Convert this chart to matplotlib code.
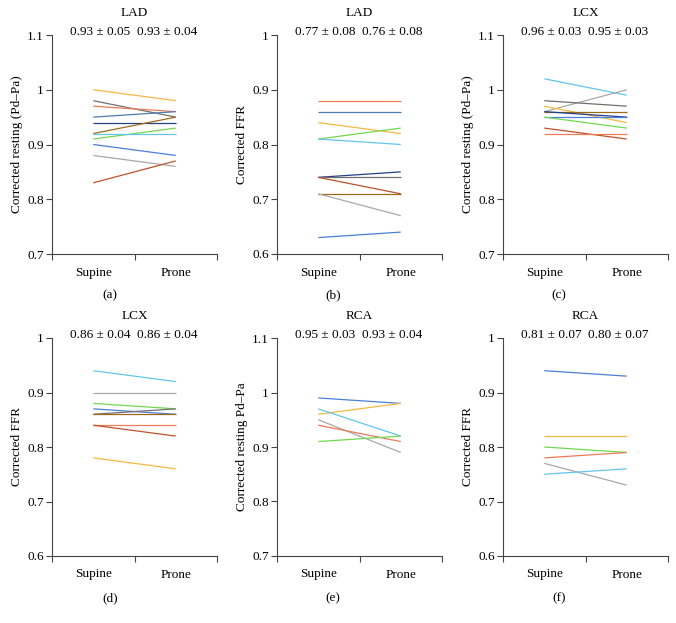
import matplotlib
matplotlib.use("Agg")
import matplotlib.pyplot as plt

plt.rcParams['font.family'] = ['Liberation Serif', 'DejaVu Serif']
plt.rcParams['font.size'] = 9.5

# colours used for the individual patients
GOLD = '#F4B942'
DGRAY = '#707070'
SALMON = '#EE7B55'
STEEL = '#4A7EB5'
NAVY = '#22408C'
BROWN = '#9E6A1A'
GREEN = '#72D94F'
CYAN = '#62C6EC'
BLUE = '#4A80D8'
LGRAY = '#A8A8A8'
BRICK = '#C0522B'

positions = ['Supine', 'Prone']

# (a) LAD resting Pd-Pa
lad_rest_supine = [1.00, 0.98, 0.97, 0.95, 0.94, 0.92, 0.91, 0.92, 0.90, 0.88, 0.83]
lad_rest_prone = [0.98, 0.95, 0.96, 0.96, 0.94, 0.95, 0.93, 0.92, 0.88, 0.86, 0.87]
lad_rest_colors = [GOLD, DGRAY, SALMON, STEEL, NAVY, BROWN, GREEN, CYAN, BLUE, LGRAY, BRICK]

# (b) LAD FFR
lad_ffr_supine = [0.88, 0.86, 0.84, 0.81, 0.81, 0.74, 0.74, 0.74, 0.71, 0.71, 0.63]
lad_ffr_prone = [0.88, 0.86, 0.82, 0.83, 0.80, 0.75, 0.74, 0.71, 0.71, 0.67, 0.64]
lad_ffr_colors = [SALMON, STEEL, GOLD, GREEN, CYAN, NAVY, DGRAY, BRICK, BROWN, LGRAY, BLUE]

# (c) LCX resting Pd-Pa
lcx_rest_supine = [1.02, 0.96, 0.98, 0.97, 0.96, 0.96, 0.95, 0.95, 0.93, 0.92]
lcx_rest_prone = [0.99, 1.00, 0.97, 0.94, 0.96, 0.95, 0.95, 0.93, 0.91, 0.92]
lcx_rest_colors = [CYAN, LGRAY, DGRAY, GOLD, BROWN, NAVY, BLUE, GREEN, BRICK, SALMON]

# (d) LCX FFR
lcx_ffr_supine = [0.94, 0.90, 0.88, 0.87, 0.86, 0.86, 0.84, 0.84, 0.78]
lcx_ffr_prone = [0.92, 0.90, 0.87, 0.86, 0.87, 0.86, 0.84, 0.82, 0.76]
lcx_ffr_colors = [CYAN, LGRAY, GREEN, BLUE, DGRAY, BROWN, SALMON, BRICK, GOLD]

# (e) RCA resting Pd-Pa
rca_rest_supine = [0.99, 0.96, 0.97, 0.95, 0.94, 0.91]
rca_rest_prone = [0.98, 0.98, 0.92, 0.89, 0.91, 0.92]
rca_rest_colors = [BLUE, GOLD, CYAN, LGRAY, SALMON, GREEN]

# (f) RCA FFR
rca_ffr_supine = [0.94, 0.82, 0.80, 0.78, 0.77, 0.75]
rca_ffr_prone = [0.93, 0.82, 0.79, 0.79, 0.73, 0.76]
rca_ffr_colors = [BLUE, GOLD, GREEN, SALMON, LGRAY, CYAN]

panels = [
    ('LAD', 'Corrected resting (Pd\u2013Pa)', lad_rest_supine, lad_rest_prone, lad_rest_colors,
     (0.7, 1.1), ['0.93 \u00b1 0.05', '0.93 \u00b1 0.04'], '(a)'),
    ('LAD', 'Corrected FFR', lad_ffr_supine, lad_ffr_prone, lad_ffr_colors,
     (0.6, 1.0), ['0.77 \u00b1 0.08', '0.76 \u00b1 0.08'], '(b)'),
    ('LCX', 'Corrected resting (Pd\u2013Pa)', lcx_rest_supine, lcx_rest_prone, lcx_rest_colors,
     (0.7, 1.1), ['0.96 \u00b1 0.03', '0.95 \u00b1 0.03'], '(c)'),
    ('LCX', 'Corrected FFR', lcx_ffr_supine, lcx_ffr_prone, lcx_ffr_colors,
     (0.6, 1.0), ['0.86 \u00b1 0.04', '0.86 \u00b1 0.04'], '(d)'),
    ('RCA', 'Corrected resting Pd\u2013Pa', rca_rest_supine, rca_rest_prone, rca_rest_colors,
     (0.7, 1.1), ['0.95 \u00b1 0.03', '0.93 \u00b1 0.04'], '(e)'),
    ('RCA', 'Corrected FFR', rca_ffr_supine, rca_ffr_prone, rca_ffr_colors,
     (0.6, 1.0), ['0.81 \u00b1 0.07', '0.80 \u00b1 0.07'], '(f)'),
]

W, H = 676, 623
fig = plt.figure(figsize=(W / 100, H / 100), dpi=100)

col_left = [52, 277, 503]
col_label_x = [110, 333, 559]
row_top = [35, 338]
row_bottom = [254, 556]
row_label_y = [295, 598]
ax_w = 165

spine_col = '#444444'

for i, (vessel, ylab, sup, pro, cols, ylim, stats, letter) in enumerate(panels):
    r, c = divmod(i, 3)
    ax_h = row_bottom[r] - row_top[r]
    ax = fig.add_axes([col_left[c] / W, 1 - row_bottom[r] / H, ax_w / W, ax_h / H])
    for s, p, col in zip(sup, pro, cols):
        ax.plot([0, 1], [s, p], color=col, lw=0.9, solid_capstyle='butt')
    ax.set_xlim(-0.5, 1.5)
    ax.set_ylim(*ylim)
    yt = [round(ylim[0] + 0.1 * k, 1) for k in range(5)]
    ax.set_yticks(yt)
    ax.set_yticklabels(['1' if v == 1.0 else '%.1f' % v for v in yt])
    ax.set_xticks([-0.5, 0.5, 1.5])
    ax.set_xticklabels([])
    ax.set_xticks([0, 1], minor=True)
    ax.set_xticklabels(positions, minor=True)
    ax.tick_params(axis='x', which='minor', length=0, pad=9)
    ax.tick_params(axis='both', which='major', length=4, width=0.8, color=spine_col, direction='out')
    ax.tick_params(axis='y', pad=2)
    for side in ['top', 'right']:
        ax.spines[side].set_visible(False)
    for side in ['left', 'bottom']:
        ax.spines[side].set_color(spine_col)
        ax.spines[side].set_linewidth(0.8)
    ax.set_ylabel(ylab, labelpad=3)
    ax.text(0.5, 1.0 + 22 / ax_h, vessel, transform=ax.transAxes, ha='center', va='center')
    ax.text(0.29, 1.0 + 3 / ax_h, stats[0], transform=ax.transAxes, ha='center', va='center')
    ax.text(0.70, 1.0 + 3 / ax_h, stats[1], transform=ax.transAxes, ha='center', va='center')
    fig.text(col_label_x[c] / W, 1 - row_label_y[r] / H, letter, ha='center', va='center')

fig.savefig('out.png', dpi=100)
